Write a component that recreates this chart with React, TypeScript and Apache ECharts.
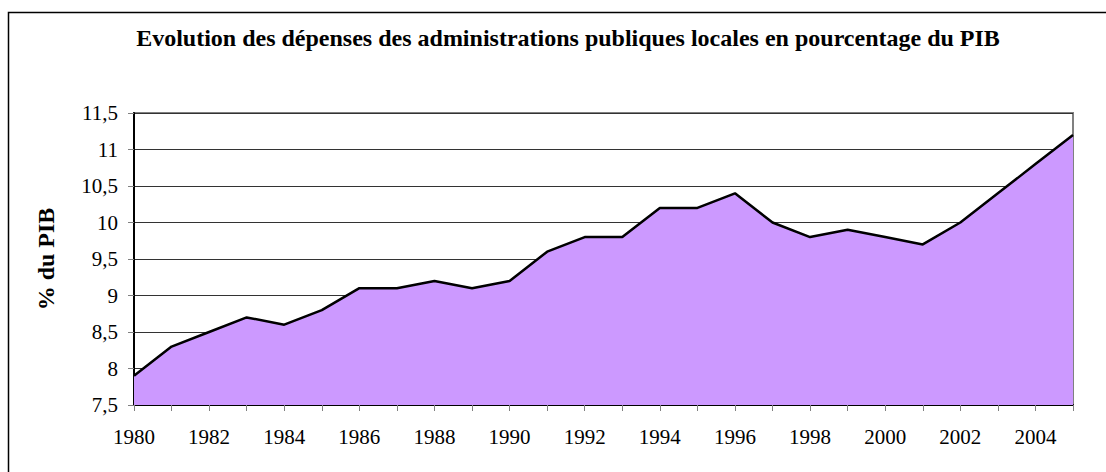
import React, { useEffect, useRef } from "react";
import * as echarts from "echarts";

const years = [
  "1980", "1981", "1982", "1983", "1984", "1985", "1986", "1987", "1988", "1989",
  "1990", "1991", "1992", "1993", "1994", "1995", "1996", "1997", "1998", "1999",
  "2000", "2001", "2002", "2003", "2004", "2005",
];
const depenses = [
  7.9, 8.3, 8.5, 8.7, 8.6, 8.8, 9.1, 9.1, 9.2, 9.1,
  9.2, 9.6, 9.8, 9.8, 10.2, 10.2, 10.4, 10.0, 9.8, 9.9,
  9.8, 9.7, 10.0, 10.4, 10.8, 11.2,
];
const titleText = "Evolution des dépenses des administrations publiques locales en pourcentage du PIB";
const yAxisTitle = "% du PIB";

export default function App() {
  const ref = useRef<HTMLDivElement>(null);
  useEffect(() => {
    document.body.style.margin = "0";
    const chart = echarts.init(ref.current!, null, { renderer: "svg" });
    const serif = "Liberation Serif";
    chart.setOption({
      animation: false,
      backgroundColor: "#ffffff",
      title: {
        text: titleText,
        left: 563,
        top: 21,
        textAlign: "center",
        textStyle: { fontFamily: serif, fontWeight: "bold", fontSize: 24, color: "#000" },
      },
      graphic: [
        {
          type: "rect",
          shape: { x: 8.5, y: 12.5, width: 1200, height: 500 },
          style: { fill: "none", stroke: "#000", lineWidth: 1.5 },
          silent: true,
        },
      ],
      grid: {
        left: 134,
        right: 33,
        top: 113,
        bottom: 67,
        show: true,
        borderColor: "#808080",
        borderWidth: 2,
        backgroundColor: "transparent",
      },
      xAxis: {
        type: "category",
        data: years,
        boundaryGap: false,
        axisLine: { show: true, lineStyle: { color: "#000", width: 2 } },
        axisTick: { show: true, interval: 0, length: 6, lineStyle: { color: "#808080", width: 1 } },
        axisLabel: {
          interval: 1,
          margin: 21,
          fontFamily: serif,
          fontSize: 21,
          color: "#000",
        },
        splitLine: { show: false },
      },
      yAxis: {
        type: "value",
        min: 7.5,
        max: 11.5,
        interval: 0.5,
        name: yAxisTitle,
        nameLocation: "middle",
        nameGap: 76,
        nameTextStyle: { fontFamily: serif, fontWeight: "bold", fontSize: 24, color: "#000" },
        axisLine: { show: true, lineStyle: { color: "#000", width: 2 } },
        axisTick: { show: true, length: 6, lineStyle: { color: "#808080", width: 1 } },
        axisLabel: {
          margin: 16,
          fontFamily: serif,
          fontSize: 21,
          color: "#000",
          formatter: (v: number) => String(v).replace(".", ","),
        },
        splitLine: { show: true, lineStyle: { color: "#333", width: 1 } },
      },
      series: [
        {
          type: "line",
          data: depenses,
          symbol: "none",
          lineStyle: { color: "#000", width: 2.5 },
          areaStyle: { color: "#CC99FF", opacity: 1, origin: "start" },
          z: 3,
        },
      ],
    });
    return () => chart.dispose();
  }, []);
  return <div ref={ref} style={{ width: 1106, height: 472 }} />;
}
